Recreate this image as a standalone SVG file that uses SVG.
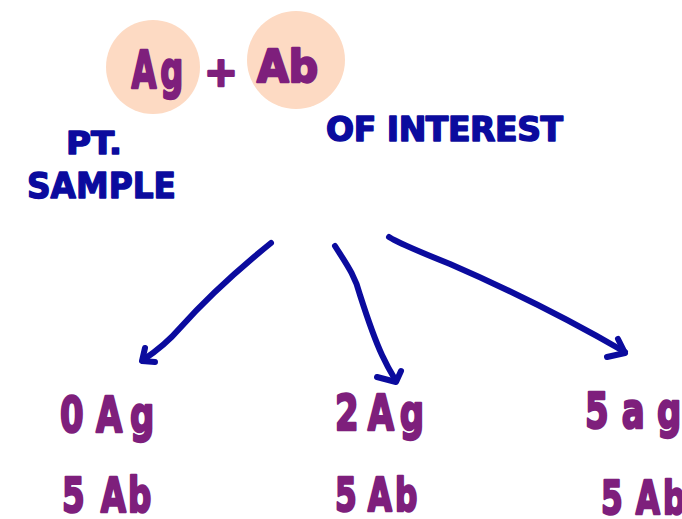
<svg xmlns="http://www.w3.org/2000/svg" width="682" height="519" viewBox="0 0 682 519">
<style>
.p{fill:#7E1F7C;stroke:#7E1F7C;stroke-width:2.5;stroke-linejoin:round;font-family:"DejaVu Sans",sans-serif;font-weight:bold}
.n{fill:#0B0B9E;stroke:#0B0B9E;stroke-width:1.5;stroke-linejoin:round;font-family:"DejaVu Sans",sans-serif;font-weight:bold}
.c{fill:#FDDAC3}
.a{fill:none;stroke:#0B0B9E;stroke-width:6;stroke-linecap:round;stroke-linejoin:round}
</style>
<rect width="682" height="519" fill="#FFFFFF"/>
<g id="ag-circle"><circle class="c" cx="153" cy="67" r="47"/></g>
<g id="ab-circle"><circle class="c" cx="296" cy="60" r="49"/></g>
<g id="ag"><text class="p" transform="translate(131,88) scale(0.62,1)" x="1 47" y="0" font-size="52">Ag</text></g>
<g id="plus"><text class="p" x="221" y="86" font-size="40" text-anchor="middle">+</text></g>
<g id="ab"><text class="p" x="257" y="82" font-size="44" textLength="61" lengthAdjust="spacingAndGlyphs">Ab</text></g>
<g id="pt-sample">
<text class="n" x="66" y="154" font-size="32" textLength="56" lengthAdjust="spacingAndGlyphs">PT.</text>
<text class="n" x="27" y="198" font-size="36" textLength="149" lengthAdjust="spacingAndGlyphs">SAMPLE</text>
</g>
<g id="of-interest"><text class="n" x="326" y="141" font-size="33" textLength="237" lengthAdjust="spacing">OF INTEREST</text></g>
<g id="connectors">
<path class="a" d="M271 243 C240 268 205 300 180 328 C168 342 155 352 143 360"/>
<path class="a" d="M145 348 L142 361 L155 362"/>
<path class="a" d="M335 246 C345 262 355 275 360 295 C368 320 375 340 382 355 C388 368 393 376 396 381"/>
<path class="a" d="M377 377 L396 382 L401 371"/>
<path class="a" d="M389 237 C400 244 420 252 450 264 C510 290 570 320 625 352"/>
<path class="a" d="M618 339 L625 353 L607 357"/>
</g>
<g id="case1">
<text class="p" transform="translate(60,432) scale(0.68,1)" x="0 53 103" y="0" font-size="50">0Ag</text>
<text class="p" transform="translate(60,512) scale(0.68,1)" x="3 60 100" y="0" font-size="48">5Ab</text>
</g>
<g id="case2">
<text class="p" transform="translate(333,430) scale(0.68,1)" x="3 51 98" y="0" font-size="50">2Ag</text>
<text class="p" transform="translate(333,511) scale(0.68,1)" x="3 51 91" y="0" font-size="46">5Ab</text>
</g>
<g id="case3">
<text class="p" transform="translate(583,428) scale(0.68,1)" x="3 57 109" y="0" font-size="50">5ag</text>
<text class="p" transform="translate(599,514) scale(0.68,1)" x="3 54 94" y="0" font-size="46">5Ab</text>
</g>
</svg>
